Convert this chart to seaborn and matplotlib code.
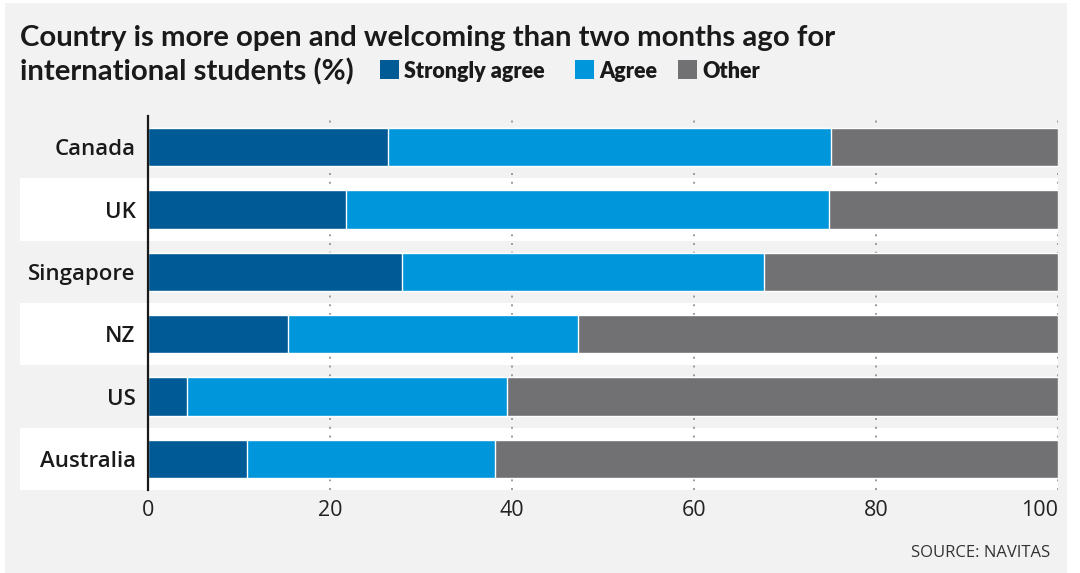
import pandas as pd
import matplotlib.pyplot as plt
import seaborn as sns
from matplotlib.patches import Rectangle

countries = ["Canada", "UK", "Singapore", "NZ", "US", "Australia"]
strongly_agree = [26.4, 21.8, 27.9, 15.4, 4.3, 10.9]
agree = [48.7, 53.0, 39.8, 31.9, 35.2, 27.2]
other = [24.9, 25.2, 32.3, 52.7, 60.5, 61.9]
x_ticks = [0, 20, 40, 60, 80, 100]

DARK = "#005a96"
LIGHT = "#0096dc"
GREY = "#717073"
BG = "#f2f2f2"

df = pd.DataFrame({"country": countries, "strong": strongly_agree,
                   "agree": agree, "other": other})
# cumulative totals so the bars can be layered
df["c1"] = df["strong"]
df["c2"] = df["strong"] + df["agree"]
df["c3"] = df["c2"] + df["other"]

sns.set_style("white")
plt.rcParams["font.family"] = ["Open Sans", "DejaVu Sans"]

fig = plt.figure(figsize=(10.8, 5.73), dpi=100, facecolor="white")
fig.patches.append(Rectangle((5 / 1080, 0), 1062 / 1080, 570 / 573,
                             transform=fig.transFigure, facecolor=BG,
                             edgecolor="none", zorder=-10))
ax = fig.add_axes([148 / 1080, 1 - 490 / 573, 910 / 1080, 374 / 573])
ax.set_facecolor("none")

# white bands behind every other row, running out under the labels
for i in range(1, len(countries), 2):
    ax.axhspan(i - 0.5, i + 0.5, xmin=-128 / 910, xmax=1, facecolor="white",
               edgecolor="none", clip_on=False, zorder=0)

for t in x_ticks[1:]:
    ax.axvline(t, color="#9a9a9a", linestyle=(0, (1, 3.5)), linewidth=1.4, zorder=1)

for col, color in [("c3", GREY), ("c2", LIGHT), ("c1", DARK)]:
    sns.barplot(data=df, y="country", x=col, color=color, orient="h",
                width=0.61, saturation=1, ax=ax, zorder=2)

ax.set_xlim(0, 100)
ax.set_ylim(5.5, -0.5)
ax.set_xticks(x_ticks)
ax.set_xlabel("")
ax.set_ylabel("")
ax.tick_params(axis="both", length=0)
ax.tick_params(axis="y", pad=9, labelsize=16)
ax.tick_params(axis="x", pad=7, labelsize=15.5, labelcolor="#222222")
for lab in ax.get_yticklabels():
    lab.set_fontweight("semibold")
    lab.set_color("#1a1a1a")
xlabs = ax.get_xticklabels()
xlabs[-1].set_horizontalalignment("right")
xlabs[-1].set_x(100.5)
for s in ["top", "right", "bottom"]:
    ax.spines[s].set_visible(False)
ax.spines["left"].set_color("#1a1a1a")
ax.spines["left"].set_linewidth(1.6)
ax.spines["left"].set_zorder(5)

title_font = ["Lato", "DejaVu Sans"]
fig.text(20 / 1080, 1 - 46 / 573, "Country is more open and welcoming than two months ago for",
         fontsize=21.2, fontweight="bold", color="#1a1a1a", va="baseline", family=title_font)
fig.text(20 / 1080, 1 - 80 / 573, "international students (%)",
         fontsize=21.2, fontweight="bold", color="#1a1a1a", va="baseline", family=title_font)

legend_items = [(380, "Strongly agree", DARK), (575, "Agree", LIGHT), (678, "Other", GREY)]
for x0, label, color in legend_items:
    fig.patches.append(Rectangle((x0 / 1080, 1 - 79 / 573), 19 / 1080, 19 / 573,
                                 transform=fig.transFigure, facecolor=color,
                                 edgecolor="none"))
    fig.text((x0 + 24) / 1080, 1 - 78 / 573, label, fontsize=15.5,
             fontweight="heavy", color="#1a1a1a", va="baseline", family=title_font)

fig.text(1050 / 1080, 1 - 557 / 573, "SOURCE: NAVITAS", fontsize=12,
         color="#333333", ha="right", va="baseline")

fig.savefig("out.png", dpi=100, facecolor="white")
